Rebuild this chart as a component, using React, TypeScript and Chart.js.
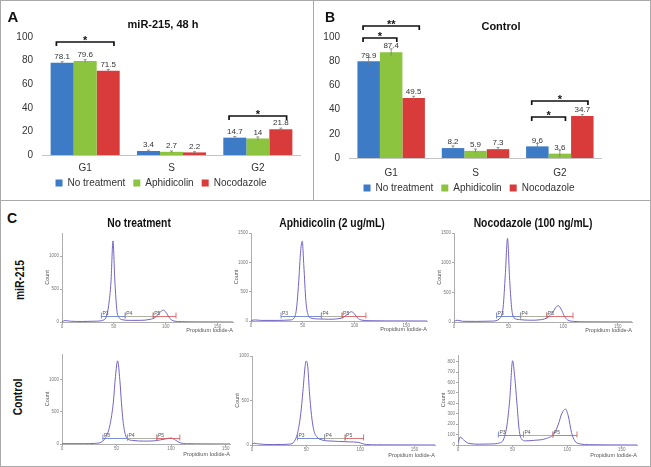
import React, { useEffect, useRef } from 'react';
import { Chart, registerables } from 'chart.js';
Chart.register(...registerables);

const FONT = "'Liberation Sans', Arial, sans-serif";
Chart.defaults.font.family = FONT;

// ---------- Panels A / B ----------
const phases = ['G1', 'S', 'G2'];
const treatments = ['No treatment', 'Aphidicolin', 'Nocodazole'];
const barColors = ['#3d7bc7', '#8cc43f', '#d93b3b'];

const mirNoTreatment = [78.1, 3.4, 14.7];
const mirAphidicolin = [79.6, 2.7, 14];
const mirNocodazole = [71.5, 2.2, 21.8];
const mirErrNoTreatment = [1.0, 0.7, 1.0];
const mirErrAphidicolin = [1.2, 0.7, 1.3];
const mirErrNocodazole = [0.9, 0.6, 1.0];

const ctrlNoTreatment = [79.9, 8.2, 9.6];
const ctrlAphidicolin = [87.4, 5.9, 3.6];
const ctrlNocodazole = [49.5, 7.3, 34.7];
const ctrlErrNoTreatment = [3.2, 1.8, 2.4];
const ctrlErrAphidicolin = [2.8, 1.5, 2.8];
const ctrlErrNocodazole = [1.5, 1.3, 1.3];

const percentMax = 100;
const percentStep = 20;

// significance brackets: group index, from series, to series, level (%), label
const mirBrackets = [
  { group: 0, from: 0, to: 2, level: 96, text: '*' },
  { group: 2, from: 0, to: 2, level: 33, text: '*' },
];
const ctrlBrackets = [
  { group: 0, from: 0, to: 2, level: 109, text: '**' },
  { group: 0, from: 0, to: 1, level: 99.5, text: '*' },
  { group: 2, from: 0, to: 1, level: 34, text: '*' },
  { group: 2, from: 0, to: 2, level: 47, text: '*' },
];

// ---------- Panel C histograms ----------
const gateNames = ['P3', 'P4', 'P5'];
const gateColors = ['#5a72c4', '#9a9a8a', '#d45050'];
const histXTicks = [0, 50, 100, 150];

const mirNoTreatX = [0, 3, 8, 20, 32, 40, 43, 45, 47.3, 49.2, 51, 53, 55, 58, 65, 75, 85, 90, 94, 98, 101, 104, 108, 115, 130, 165];
const mirNoTreatCount = [5, 22, 12, 8, 12, 30, 90, 250, 620, 1230, 620, 170, 70, 35, 25, 25, 40, 70, 140, 180, 130, 55, 15, 5, 2, 0];
const mirNoTreatGateFrom = [38, 61, 88];
const mirNoTreatGateTo = [61, 88, 110];
const mirNoTreatGateLevel = 95;

const mirAphiX = [0, 4, 10, 25, 38, 42, 44, 46, 48, 49.5, 51, 53, 55, 58, 65, 75, 85, 90, 94, 97, 100, 103, 107, 115, 130, 170];
const mirAphiCount = [10, 18, 10, 10, 18, 60, 220, 650, 1200, 1360, 950, 350, 110, 50, 35, 30, 40, 70, 130, 158, 120, 50, 15, 5, 2, 0];
const mirAphiGateFrom = [29, 68, 88];
const mirAphiGateTo = [68, 88, 111];
const mirAphiGateLevel = 90;

const mirNocoX = [0, 3, 8, 20, 35, 42, 45, 47, 49, 51, 53, 55, 60, 70, 80, 86, 90, 93, 95.5, 98, 101, 104, 110, 120, 163];
const mirNocoCount = [10, 30, 12, 10, 15, 60, 250, 800, 1410, 700, 200, 70, 40, 30, 40, 80, 150, 240, 276, 220, 100, 35, 10, 3, 0];
const mirNocoGateFrom = [39, 61, 85];
const mirNocoGateTo = [61, 85, 109];
const mirNocoGateLevel = 105;

const ctrlNoTreatX = [0, 20, 30, 36, 40, 44, 47, 49, 51, 53, 54.5, 56, 58, 60, 65, 75, 85, 95, 100, 104, 108, 115, 130, 154];
const ctrlNoTreatCount = [5, 5, 10, 30, 100, 300, 640, 1050, 1294, 1000, 640, 350, 150, 80, 55, 45, 50, 80, 93, 60, 20, 5, 2, 0];
const ctrlNoTreatGateFrom = [37.5, 60, 87];
const ctrlNoTreatGateTo = [60, 87, 108];
const ctrlNoTreatGateLevel = 87;

const ctrlAphiX = [0, 2, 6, 20, 35, 39, 42, 45, 47, 49, 50, 51.5, 53, 55, 57, 60, 65, 72, 80, 90, 98, 102, 106, 115, 169];
const ctrlAphiCount = [10, 20, 12, 5, 10, 40, 130, 350, 600, 880, 943, 880, 600, 330, 170, 90, 55, 45, 40, 35, 30, 15, 5, 2, 0];
const ctrlAphiGateFrom = [42, 67, 86];
const ctrlAphiGateTo = [67, 86, 103];
const ctrlAphiGateLevel = 75;

const ctrlNocoX = [0, 2, 5, 10, 20, 30, 38, 42, 45, 47.5, 50, 52, 54, 56, 58, 62, 70, 80, 88, 92, 95, 98.5, 101, 104, 107, 112, 120, 164];
const ctrlNocoCount = [20, 77, 50, 15, 8, 10, 20, 60, 200, 450, 810, 650, 400, 150, 60, 40, 45, 60, 110, 200, 300, 345, 280, 120, 40, 10, 3, 0];
const ctrlNocoGateFrom = [37, 60, 87];
const ctrlNocoGateTo = [60, 87, 109];
const ctrlNocoGateLevel = 96;

// axis ranges and tick labels for the six histograms
const histXMax = [165, 170, 163, 154, 169, 164];
const histYMax = [1350, 1500, 1500, 1400, 1000, 865];
const countTicks1500 = [0, 500, 1000, 1500];
const countTicks800 = [0, 100, 200, 300, 400, 500, 600, 700, 800];

// ---------- components ----------
type Bracket = { group: number; from: number; to: number; level: number; text: string };

function BarPanel(props: {
  left: number; top: number; width: number; height: number;
  padTop: number; yWidth: number; xHeight: number; tickPad: number;
  legendDx: number; legendDy: number;
  series: number[][]; errors: number[][]; brackets: Bracket[];
}) {
  const ref = useRef<HTMLCanvasElement>(null);
  useEffect(() => {
    const { series, errors, brackets, legendDx, legendDy } = props;
    const decor = {
      id: 'barDecor',
      afterLayout(chart: any) {
        const lg = chart.legend;
        if (lg) {
          lg.left += legendDx; lg.right += legendDx;
          lg.top += legendDy; lg.bottom += legendDy;
        }
      },
      afterDatasetsDraw(chart: any) {
        const ctx = chart.ctx;
        const ys = chart.scales.y;
        chart.data.datasets.forEach((ds: any, di: number) => {
          const meta = chart.getDatasetMeta(di);
          meta.data.forEach((el: any, i: number) => {
            const v = ds.data[i] as number;
            const e = errors[di][i];
            const x = el.x;
            const yt = ys.getPixelForValue(v + e);
            const yb = ys.getPixelForValue(v - e);
            ctx.save();
            ctx.strokeStyle = '#7a7a7a';
            ctx.lineWidth = 0.8;
            ctx.beginPath();
            ctx.moveTo(x, yt); ctx.lineTo(x, yb);
            ctx.moveTo(x - 1.5, yt); ctx.lineTo(x + 1.5, yt);
            ctx.stroke();
            ctx.fillStyle = '#333';
            ctx.font = `8px ${FONT}`;
            ctx.textAlign = 'center';
            ctx.textBaseline = 'bottom';
            ctx.fillText(String(v), x, ys.getPixelForValue(v) - 2);
            ctx.restore();
          });
        });
        brackets.forEach((b) => {
          const m0 = chart.getDatasetMeta(b.from).data[b.group] as any;
          const m1 = chart.getDatasetMeta(b.to).data[b.group] as any;
          const x0 = m0.x - m0.width * 0.25;
          const x1 = m1.x + m1.width * 0.25;
          const yl = Math.round(ys.getPixelForValue(b.level));
          ctx.save();
          ctx.strokeStyle = '#111';
          ctx.lineWidth = 1.7;
          ctx.beginPath();
          ctx.moveTo(x0, yl + 4); ctx.lineTo(x0, yl); ctx.lineTo(x1, yl); ctx.lineTo(x1, yl + 4);
          ctx.stroke();
          ctx.fillStyle = '#111';
          ctx.font = `bold 11px ${FONT}`;
          ctx.textAlign = 'center';
          ctx.textBaseline = 'alphabetic';
          ctx.fillText(b.text, (x0 + x1) / 2, yl + 2);
          ctx.restore();
        });
      },
    };
    const chart = new Chart(ref.current!, {
      type: 'bar',
      data: {
        labels: phases,
        datasets: series.map((d, i) => ({
          label: treatments[i],
          data: d,
          backgroundColor: barColors[i],
          borderWidth: 0,
          barPercentage: 1,
          categoryPercentage: 0.8,
        })),
      },
      options: {
        animation: false,
        responsive: false,
        maintainAspectRatio: false,
        layout: { padding: { top: props.padTop, left: 0, right: 0, bottom: 0 } },
        plugins: {
          legend: {
            position: 'bottom',
            labels: { boxWidth: 7, boxHeight: 7, padding: 8, color: '#333', font: { size: 10, family: FONT } },
          },
          tooltip: { enabled: false },
          title: { display: false },
        },
        scales: {
          x: {
            grid: { display: false, drawTicks: false },
            border: { display: true, color: '#c4c4c4', width: 1 },
            ticks: { padding: props.tickPad, color: '#333', font: { size: 10, family: FONT } },
            afterFit: (s: any) => { s.height = props.xHeight; },
          },
          y: {
            min: 0,
            max: percentMax,
            ticks: { stepSize: percentStep, padding: 9, color: '#333', font: { size: 10, family: FONT } },
            grid: { display: false, drawTicks: false },
            border: { display: false },
            afterFit: (s: any) => { s.width = props.yWidth; },
          },
        },
      } as any,
      plugins: [decor as any],
    });
    return () => chart.destroy();
  }, []);
  return (
    <canvas
      ref={ref}
      width={props.width}
      height={props.height}
      style={{ position: 'absolute', left: props.left, top: props.top, width: props.width, height: props.height }}
    />
  );
}

function Histogram(props: {
  box: { l: number; t: number; r: number; b: number };
  xs: number[]; counts: number[];
  xMax: number; yMax: number; yTicks: number[];
  gateFrom: number[]; gateTo: number[]; gateLevel: number;
  xHeight: number;
}) {
  const ref = useRef<HTMLCanvasElement>(null);
  const yW = 18;
  const pad = 4;
  const { box } = props;
  const left = box.l - yW;
  const top = box.t - pad;
  const width = box.r - box.l + yW + pad;
  const height = box.b - box.t + pad + props.xHeight;
  useEffect(() => {
    const gates = {
      id: 'gates',
      afterDatasetsDraw(chart: any) {
        const { ctx } = chart;
        const xs = chart.scales.x;
        const ys = chart.scales.y;
        const yy = Math.round(ys.getPixelForValue(props.gateLevel)) + 0.5;
        gateNames.forEach((name, i) => {
          const x0 = xs.getPixelForValue(props.gateFrom[i]);
          const x1 = xs.getPixelForValue(props.gateTo[i]);
          ctx.save();
          ctx.strokeStyle = gateColors[i];
          ctx.lineWidth = 0.8;
          ctx.beginPath();
          ctx.moveTo(x0, yy); ctx.lineTo(x1, yy);
          ctx.moveTo(x0, yy - 4); ctx.lineTo(x0, yy + 2);
          ctx.moveTo(x1, yy - 4); ctx.lineTo(x1, yy + 2);
          ctx.stroke();
          ctx.fillStyle = '#555';
          ctx.font = `5px ${FONT}`;
          ctx.textAlign = 'left';
          ctx.textBaseline = 'bottom';
          ctx.fillText(name, x0 + 1, yy - 0.5);
          ctx.restore();
        });
      },
    };
    const yTickList = props.yTicks.filter((v) => v <= props.yMax);
    const chart = new Chart(ref.current!, {
      type: 'line',
      data: {
        datasets: [
          {
            data: props.xs.map((x, i) => ({ x, y: props.counts[i] })),
            borderColor: '#7363c6',
            borderWidth: 1,
            pointRadius: 0,
            fill: false,
            cubicInterpolationMode: 'monotone',
          },
        ],
      },
      options: {
        animation: false,
        responsive: false,
        maintainAspectRatio: false,
        layout: { padding: { top: pad, right: pad, left: 0, bottom: 0 } },
        plugins: { legend: { display: false }, tooltip: { enabled: false } },
        scales: {
          x: {
            type: 'linear',
            min: 0,
            max: props.xMax,
            grid: { drawOnChartArea: false, drawTicks: true, tickLength: 2, color: '#aaa' },
            border: { color: '#999', width: 0.8 },
            ticks: { padding: 0.5, maxRotation: 0, autoSkip: false, color: '#777', font: { size: 4.5, family: FONT }, callback: (v: any) => String(v) },
            afterBuildTicks: (s: any) => { s.ticks = histXTicks.map((value) => ({ value })); },
            title: { display: true, text: 'Propidium Iodide-A', align: 'end', padding: 0, color: '#555', font: { size: 5.5, family: FONT } },
            afterFit: (s: any) => { s.height = props.xHeight; },
          },
          y: {
            min: 0,
            max: props.yMax,
            grid: { drawOnChartArea: false, drawTicks: true, tickLength: 2, color: '#aaa' },
            border: { color: '#999', width: 0.8 },
            ticks: { padding: 1, autoSkip: false, color: '#777', font: { size: 4.5, family: FONT }, callback: (v: any) => String(v) },
            afterBuildTicks: (s: any) => { s.ticks = yTickList.map((value) => ({ value })); },
            title: { display: true, text: 'Count', padding: 0, color: '#555', font: { size: 5.5, family: FONT } },
            afterFit: (s: any) => { s.width = yW; },
          },
        },
      } as any,
      plugins: [gates as any],
    });
    return () => chart.destroy();
  }, []);
  return (
    <canvas ref={ref} width={width} height={height}
      style={{ position: 'absolute', left, top, width, height }} />
  );
}

function Label(props: { x: number; y: number; text: string; size: number; bold?: boolean; rotate?: number; sx?: number; color?: string }) {
  return (
    <div
      style={{
        position: 'absolute', left: props.x, top: props.y,
        transform: `translate(-50%, -50%) rotate(${props.rotate || 0}deg) scaleX(${props.sx || 1})`,
        whiteSpace: 'nowrap', lineHeight: 1, fontFamily: FONT,
        fontSize: props.size, fontWeight: props.bold ? 'bold' : 'normal',
        color: props.color || '#111', zIndex: 2,
      }}
    >
      {props.text}
    </div>
  );
}

export default function App() {
  const border = '#a9a9a9';
  return (
    <div style={{ position: 'absolute', left: 0, top: 0, width: 651, height: 467, background: '#fff', overflow: 'hidden' }}>
      <div style={{ position: 'absolute', left: 0, top: 0, width: 651, height: 467, border: `1.5px solid ${border}`, boxSizing: 'border-box' }} />
      <div style={{ position: 'absolute', left: 312.5, top: 0, width: 1.5, height: 200, background: border }} />
      <div style={{ position: 'absolute', left: 0, top: 199.5, width: 651, height: 1.5, background: border }} />

      <BarPanel left={5} top={10} width={296} height={193} padTop={27} yWidth={37} xHeight={20} tickPad={7.5}
        legendDx={8} legendDy={-5}
        series={[mirNoTreatment, mirAphidicolin, mirNocodazole]}
        errors={[mirErrNoTreatment, mirErrAphidicolin, mirErrNocodazole]}
        brackets={mirBrackets} />
      <BarPanel left={316} top={10} width={286} height={198} padTop={27} yWidth={33} xHeight={22} tickPad={9}
        legendDx={10} legendDy={-5}
        series={[ctrlNoTreatment, ctrlAphidicolin, ctrlNocodazole]}
        errors={[ctrlErrNoTreatment, ctrlErrAphidicolin, ctrlErrNocodazole]}
        brackets={ctrlBrackets} />

      <Label x={13} y={16} text="A" size={15} bold />
      <Label x={163} y={23.5} text="miR-215, 48 h" size={11} bold />
      <Label x={330} y={17} text="B" size={14} bold />
      <Label x={501} y={26} text="Control" size={11} bold />

      <Label x={12} y={218} text="C" size={14} bold />
      <Label x={139} y={223} text="No treatment" size={12} bold sx={0.86} />
      <Label x={332} y={223} text="Aphidicolin (2 ug/mL)" size={12} bold sx={0.86} />
      <Label x={533} y={223} text="Nocodazole (100 ng/mL)" size={12} bold sx={0.86} />
      <Label x={20} y={280} text="miR-215" size={12} bold rotate={-90} sx={0.86} />
      <Label x={18} y={397} text="Control" size={12} bold rotate={-90} sx={0.86} />

      <Histogram box={{ l: 62, t: 233, r: 233, b: 322 }} xs={mirNoTreatX} counts={mirNoTreatCount}
        xMax={histXMax[0]} yMax={histYMax[0]} yTicks={countTicks1500}
        gateFrom={mirNoTreatGateFrom} gateTo={mirNoTreatGateTo} gateLevel={mirNoTreatGateLevel} xHeight={12} />
      <Histogram box={{ l: 251, t: 233, r: 427, b: 321 }} xs={mirAphiX} counts={mirAphiCount}
        xMax={histXMax[1]} yMax={histYMax[1]} yTicks={countTicks1500}
        gateFrom={mirAphiGateFrom} gateTo={mirAphiGateTo} gateLevel={mirAphiGateLevel} xHeight={12} />
      <Histogram box={{ l: 454, t: 233, r: 632, b: 322 }} xs={mirNocoX} counts={mirNocoCount}
        xMax={histXMax[2]} yMax={histYMax[2]} yTicks={countTicks1500}
        gateFrom={mirNocoGateFrom} gateTo={mirNocoGateTo} gateLevel={mirNocoGateLevel} xHeight={12} />
      <Histogram box={{ l: 62, t: 354, r: 230, b: 444 }} xs={ctrlNoTreatX} counts={ctrlNoTreatCount}
        xMax={histXMax[3]} yMax={histYMax[3]} yTicks={countTicks1500}
        gateFrom={ctrlNoTreatGateFrom} gateTo={ctrlNoTreatGateTo} gateLevel={ctrlNoTreatGateLevel} xHeight={14} />
      <Histogram box={{ l: 252, t: 356, r: 435, b: 445 }} xs={ctrlAphiX} counts={ctrlAphiCount}
        xMax={histXMax[4]} yMax={histYMax[4]} yTicks={countTicks1500}
        gateFrom={ctrlAphiGateFrom} gateTo={ctrlAphiGateTo} gateLevel={ctrlAphiGateLevel} xHeight={14} />
      <Histogram box={{ l: 458, t: 355, r: 637, b: 445 }} xs={ctrlNocoX} counts={ctrlNocoCount}
        xMax={histXMax[5]} yMax={histYMax[5]} yTicks={countTicks800}
        gateFrom={ctrlNocoGateFrom} gateTo={ctrlNocoGateTo} gateLevel={ctrlNocoGateLevel} xHeight={14} />
    </div>
  );
}
